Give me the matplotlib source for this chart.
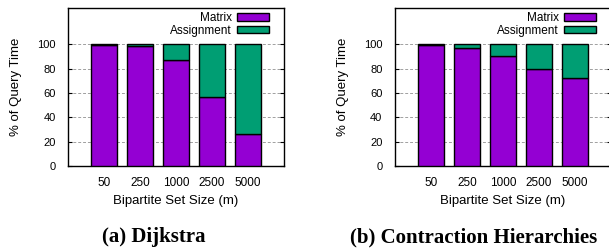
import matplotlib.pyplot as plt
import numpy as np

# data
sizes = ['50', '250', '1000', '2500', '5000']
dijkstra_matrix = [99.7, 99, 87, 56.4, 26.3]
ch_matrix = [99.3, 97, 90.6, 80, 72.2]
captions = ['(a) Dijkstra', '(b) Contraction Hierarchies']

purple = '#9400D3'
green = '#009E73'

plt.rcParams['font.family'] = 'Liberation Sans'

fig = plt.figure(figsize=(6.09, 2.49), dpi=100)
ax1 = fig.add_axes([68/609, 83/249, 216/609, 158/249])
ax2 = fig.add_axes([395/609, 83/249, 216/609, 158/249])

x = np.arange(len(sizes))
for ax, mat in zip([ax1, ax2], [dijkstra_matrix, ch_matrix]):
    mat = np.array(mat)
    ass = 100 - mat
    b1 = ax.bar(x, mat, 0.7, color=purple, edgecolor='black', linewidth=1, zorder=3)
    b2 = ax.bar(x, ass, 0.7, bottom=mat, color=green, edgecolor='black', linewidth=1, zorder=3)
    ax.set_xlim(-1, 5)
    ax.set_ylim(0, 130)
    ax.set_yticks([0, 20, 40, 60, 80, 100])
    ax.set_xticks(x)
    ax.set_xticklabels(sizes)
    ax.tick_params(axis='x', length=0, labelsize=8.5, pad=8)
    ax.tick_params(axis='y', direction='in', length=3, right=True, labelsize=8, pad=9)
    ax.grid(axis='y', linestyle=(0, (3, 2)), color='#a0a0a0', linewidth=0.7, zorder=0)
    for s in ax.spines.values():
        s.set_linewidth(1)
    ax.set_ylabel('% of Query Time', fontsize=9.5, labelpad=11)
    ax.set_xlabel('Bipartite Set Size (m)', fontsize=9.5, labelpad=4)
    ax.legend([b1, b2], ['Matrix', 'Assignment'], loc='upper right',
              bbox_to_anchor=(1 - 15/216, 1 - 4/158), markerfirst=False,
              frameon=False, fontsize=8.5, handlelength=2.7, handleheight=0.6,
              handletextpad=0.45, labelspacing=0.05, borderaxespad=0, borderpad=0)

fig.text(154/609, 1 - 237/249, captions[0], ha='center', va='center',
         fontsize=15, fontweight='bold', family='Liberation Serif')
fig.text(350/609, 1 - 237/249, captions[1], ha='left', va='center',
         fontsize=15, fontweight='bold', family='Liberation Serif')

fig.savefig('out.png', dpi=100)
